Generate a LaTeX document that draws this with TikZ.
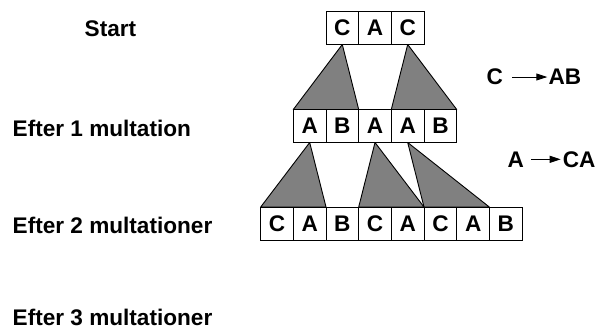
\documentclass[tikz,border=0pt]{standalone}
\usepackage{fontspec}
\setmainfont{Liberation Sans}
\usetikzlibrary{arrows.meta}
\begin{document}
\begin{tikzpicture}[x=1pt,y=-1pt,
  txt/.style={font=\fontsize{22.6}{26}\selectfont\bfseries, inner sep=0pt},
  cell/.style={txt, draw=black, line width=0.9pt, minimum width=32.7pt, minimum height=33pt, anchor=center},
  wedge/.style={fill=black!50, draw=black, line width=0.9pt, line join=round},
  rule/.style={line width=0.9pt, -{Triangle[length=11pt,width=7pt]}},
  lbl/.style={txt, anchor=base west}]
\useasboundingbox (0,0) rectangle (603,333);

% expansion wedges (drawn first, cells go on top)
\coordinate (w1a) at (342.3,44.5);
\coordinate (w1b) at (407.7,44.5);
\coordinate (w2a) at (309.7,142.5);
\coordinate (w2b) at (375.0,142.5);
\coordinate (w2c) at (407.7,142.5);
\filldraw[wedge] (w1a) -- (293.3,109.5) -- (358.7,109.5) -- cycle;
\filldraw[wedge] (w1b) -- (391.3,109.5) -- (456.7,109.5) -- cycle;
\filldraw[wedge] (w2a) -- (260.7,207) -- (326.0,207) -- cycle;
\filldraw[wedge] (w2b) -- (358.7,207) -- (424.0,207) -- cycle;
\filldraw[wedge] (w2c) -- (424.0,207) -- (489.3,207) -- cycle;

% string cells
\foreach \s [count=\i] in {C,A,C}
  \node[cell] (r1c\i) at ({342.3+32.7*(\i-1)},28) {\s};
\foreach \s [count=\i] in {A,B,A,A,B}
  \node[cell] (r2c\i) at ({309.7+32.7*(\i-1)},126) {\s};
\foreach \s [count=\i] in {C,A,B,C,A,C,A,B}
  \node[cell] (r3c\i) at ({277.0+32.7*(\i-1)},223.5) {\s};

% generation labels
\node[lbl] (l0) at (84.5,36.7) {Start};
\node[lbl] (l1) at (12.5,136) {Efter 1 multation};
\node[lbl] (l2) at (12.5,233.3) {Efter 2 multationer};
\node[lbl] (l3) at (12.5,325) {Efter 3 multationer};

% production rules
\node[lbl] (ra) at (486.5,84) {C};
\node[lbl] (rb) at (548.3,84) {AB};
\draw[rule] (512.3,77) -- (547.3,77);
\node[lbl] (rc) at (507.3,167.3) {A};
\node[lbl] (rd) at (562.7,167.3) {CA};
\draw[rule] (531,159.3) -- (560.7,159.3);
\end{tikzpicture}
\end{document}
